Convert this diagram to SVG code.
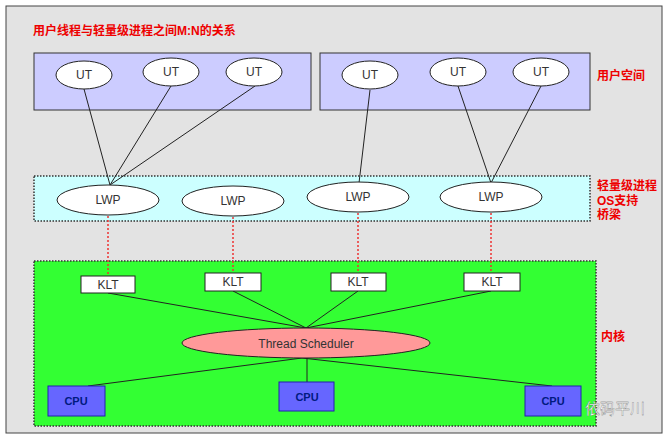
<svg xmlns="http://www.w3.org/2000/svg" width="669" height="437" viewBox="0 0 669 437">
<style>
.ell{fill:#fff;stroke:#222;stroke-width:1}
.t{font-family:"Liberation Sans","Noto Sans CJK SC",sans-serif;font-size:12px;fill:#333;text-anchor:middle}
.red{font-family:"Liberation Sans","Noto Sans CJK SC",sans-serif;font-size:12px;font-weight:bold;fill:#e00}
.ln{stroke:#222;stroke-width:1;fill:none}
.rd{stroke:#e33;stroke-width:1.5;stroke-dasharray:2,2;fill:none}
.cpu{fill:#6666ff;stroke:#2222aa;stroke-width:1}
.cput{font-family:"Liberation Sans",sans-serif;font-size:11px;font-weight:bold;fill:#001a80;text-anchor:middle}
.klt{fill:#fff;stroke:#222}
</style>
<rect width="669" height="437" fill="#fff"/>
<rect x="6" y="6" width="656" height="427" fill="#e3e3e3" stroke="#444"/>
<text class="red" x="33" y="35">用户线程与轻量级进程之间M:N的关系</text>
<g id="us">
<rect x="34" y="53" width="277" height="57" fill="#ccccff" stroke="#333"/>
<rect x="320" y="53" width="270" height="57" fill="#ccccff" stroke="#333"/>
<text class="red" x="597" y="80">用户空间</text>
</g>
<g id="lwpbox">
<rect x="34" y="176" width="556" height="45" fill="#ccffff" stroke="#333" stroke-dasharray="1.5,1.5" stroke-width="1.5"/>
<text class="red" x="597" y="190">轻量级进程</text>
<text class="red" x="597" y="205">OS支持</text>
<text class="red" x="597" y="219">桥梁</text>
</g>
<g id="kernel">
<rect x="34" y="261" width="562" height="165" fill="#33ff33" stroke="#333" stroke-dasharray="1.5,1.5" stroke-width="1.5"/>
<text class="red" x="601" y="341">内核</text>
</g>
<g id="connectors">
<path class="ln" d="M84 89L110 185M171 86L110 185M255 86L110 185M370 90L359 183M458 86L491 183M541 86L491 183"/>
<path class="rd" d="M108 216V276M233 217V273M358 213V273M491 213V273"/>
<path class="ln" d="M108 293L306 328M233 291L306 328M358 291L306 328M491 291L306 328"/>
<path class="ln" d="M302 358L88 386M307 358V382M302 358L552 386"/>
</g>
<g id="ut1"><ellipse class="ell" cx="84" cy="75" rx="28" ry="14"/><text class="t" x="84" y="79">UT</text></g>
<g id="ut2"><ellipse class="ell" cx="171" cy="72" rx="28" ry="14"/><text class="t" x="171" y="76">UT</text></g>
<g id="ut3"><ellipse class="ell" cx="254" cy="72" rx="28" ry="14"/><text class="t" x="254" y="76">UT</text></g>
<g id="ut4"><ellipse class="ell" cx="370" cy="75" rx="28" ry="14"/><text class="t" x="370" y="79">UT</text></g>
<g id="ut5"><ellipse class="ell" cx="458" cy="72" rx="28" ry="14"/><text class="t" x="458" y="76">UT</text></g>
<g id="ut6"><ellipse class="ell" cx="541" cy="72" rx="28" ry="14"/><text class="t" x="541" y="76">UT</text></g>
<g id="lwp1"><ellipse class="ell" cx="108" cy="200" rx="51" ry="15"/><text class="t" x="108" y="204">LWP</text></g>
<g id="lwp2"><ellipse class="ell" cx="233" cy="201" rx="51" ry="15"/><text class="t" x="233" y="205">LWP</text></g>
<g id="lwp3"><ellipse class="ell" cx="358" cy="197" rx="51" ry="15"/><text class="t" x="358" y="201">LWP</text></g>
<g id="lwp4"><ellipse class="ell" cx="491" cy="197" rx="51" ry="15"/><text class="t" x="491" y="201">LWP</text></g>
<g id="klt1"><rect class="klt" x="81" y="276" width="54" height="17"/><text class="t" x="108" y="289">KLT</text></g>
<g id="klt2"><rect class="klt" x="205" y="273" width="56" height="18"/><text class="t" x="233" y="286">KLT</text></g>
<g id="klt3"><rect class="klt" x="331" y="273" width="55" height="18"/><text class="t" x="358" y="286">KLT</text></g>
<g id="klt4"><rect class="klt" x="464" y="273" width="56" height="18"/><text class="t" x="492" y="286">KLT</text></g>
<g id="sched"><ellipse cx="306" cy="343" rx="124" ry="15" fill="#ff9999" stroke="#222"/><text class="t" x="306" y="348">Thread Scheduler</text></g>
<g id="cpu1"><rect class="cpu" x="48" y="386" width="57" height="30"/><text class="cput" x="76" y="405">CPU</text></g>
<g id="cpu2"><rect class="cpu" x="279" y="382" width="55" height="29"/><text class="cput" x="307" y="401">CPU</text></g>
<g id="cpu3"><rect class="cpu" x="525" y="386" width="56" height="30"/><text class="cput" x="553" y="405">CPU</text></g>
<text x="585" y="414" font-family="'Noto Sans CJK SC',sans-serif" font-size="15" fill="#fff" stroke="#666" stroke-width="0.3">依码平川</text>
</svg>
